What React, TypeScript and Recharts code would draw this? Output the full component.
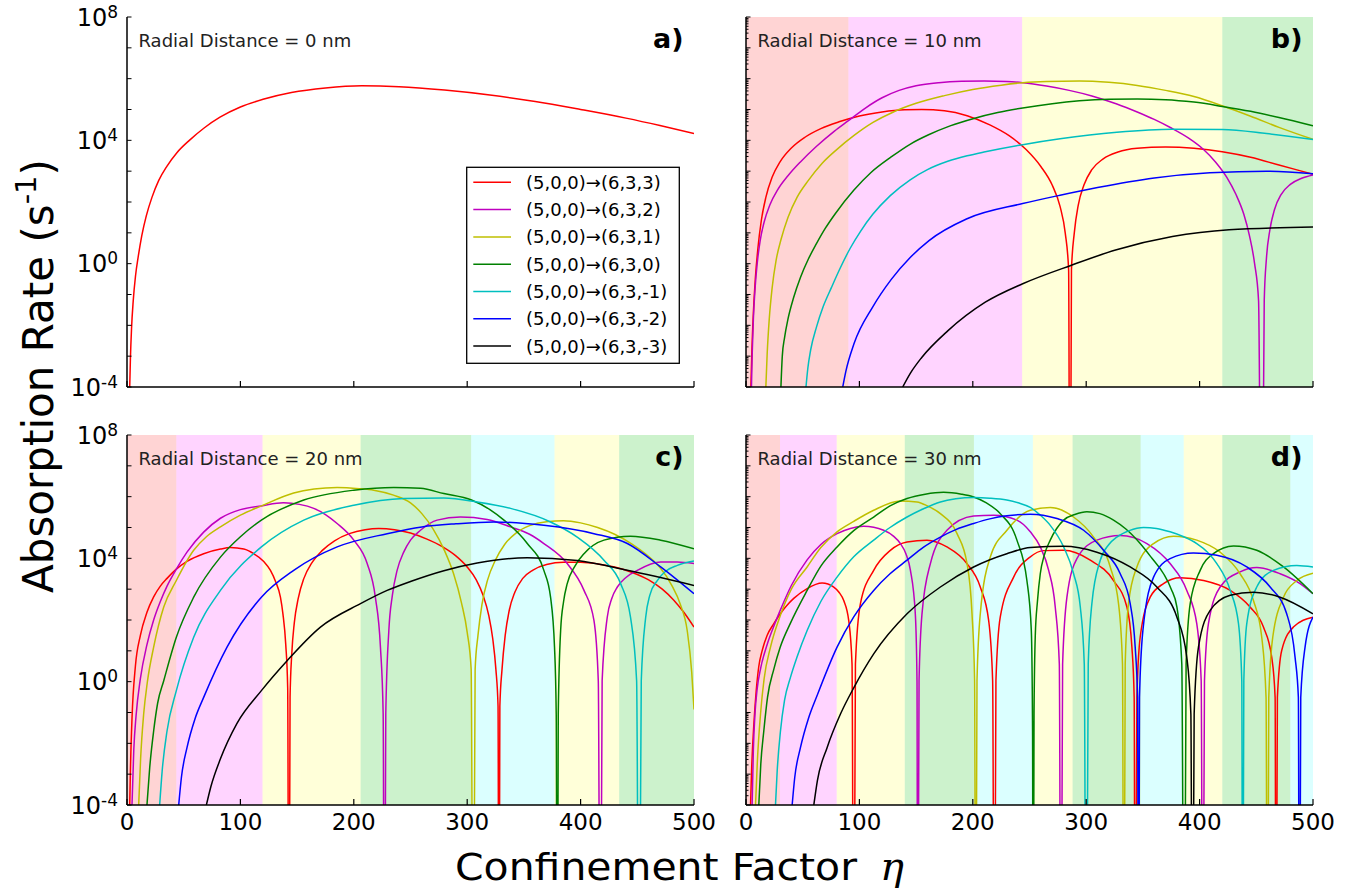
import React from 'react';
import { LineChart, Line, XAxis, YAxis, ReferenceArea } from 'recharts';

type P = [number, number]; // [confinement factor eta, log10(absorption rate / s^-1)]

// ---------- legend / series ----------
const SERIES_NAMES = [
  '(5,0,0)→(6,3,3)',
  '(5,0,0)→(6,3,2)',
  '(5,0,0)→(6,3,1)',
  '(5,0,0)→(6,3,0)',
  '(5,0,0)→(6,3,-1)',
  '(5,0,0)→(6,3,-2)',
  '(5,0,0)→(6,3,-3)',
];
const SERIES_COLORS = ['#ff0000', '#bf00bf', '#bfbf00', '#008000', '#00bfbf', '#0000ff', '#000000'];

const X_TICKS = [0, 100, 200, 300, 400, 500];
const Y_DECADES = [1e-4, 1e-3, 1e-2, 1e-1, 1, 1e1, 1e2, 1e3, 1e4, 1e5, 1e6, 1e7, 1e8];
const Y_LABEL_EXPONENTS = [-4, 0, 4, 8];
const RADIAL_DISTANCES = [0, 10, 20, 30];
const PANEL_TAGS = ['a)', 'b)', 'c)', 'd)'];

// ---------- panel a: radial distance 0 nm ----------
const aRed: P[] = [[2.4,-4],[3,-3.1],[4,-2.1],[5.5,-1.2],[7.5,-0.4],[10,0.25],[13,0.9],[17,1.55],[22,2.15],[28,2.7],[35,3.15],[44,3.6],[55,4.0],[68,4.4],[82,4.75],[100,5.08],[120,5.33],[145,5.55],[175,5.7],[207,5.77],[240,5.74],[280,5.63],[320,5.47],[360,5.26],[400,5.0],[440,4.72],[470,4.48],[500,4.22]];

// ---------- panel b: 10 nm ----------
const bRed: P[] = [[4.3,-4],[5.2,-2.8],[6.5,-1.6],[8.2,-0.5],[10.5,0.5],[13.5,1.4],[17.5,2.15],[23,2.8],[30,3.3],[40,3.75],[52,4.1],[66,4.38],[82,4.6],[100,4.79],[120,4.92],[140,4.99],[155,5.0],[175,4.96],[195,4.8],[215,4.5],[232,4.15],[247,3.7],[260,3.15],[270,2.55],[277,1.85],[281.5,1.0],[284.5,-0.2],[285.7,-12],[287,-0.2],[289.5,1.0],[293,1.9],[298,2.55],[305,3.05],[315,3.4],[328,3.62],[345,3.74],[370,3.78],[395,3.74],[420,3.63],[445,3.45],[470,3.2],[500,2.9]];
const bMag: P[] = [[4.8,-4],[5.5,-2.9],[6.5,-1.8],[8,-0.8],[10,0.05],[12.5,0.75],[16,1.35],[21,1.9],[28,2.4],[37,2.85],[48,3.3],[62,3.8],[78,4.3],[90,4.63],[105,5.04],[120,5.38],[135,5.62],[150,5.77],[170,5.87],[190,5.915],[210,5.925],[230,5.91],[244,5.87],[265,5.76],[285,5.62],[305,5.44],[327,5.18],[345,4.92],[360,4.68],[375,4.4],[390,4.08],[403,3.72],[414,3.3],[424,2.8],[432,2.25],[439,1.6],[444,0.9],[448.5,0.0],[452,-1.2],[454.7,-12],[457,-1.2],[459,0.2],[462,1.1],[466,1.75],[472,2.25],[480,2.57],[490,2.77],[500,2.88]];
const bYel: P[] = [[17.5,-4],[18.7,-2.9],[20.5,-1.8],[23,-0.8],[26.5,0.1],[31,0.8],[37,1.5],[45,2.15],[55,2.7],[67,3.25],[80,3.7],[95,4.15],[112,4.58],[130,4.92],[150,5.2],[175,5.45],[200,5.65],[225,5.79],[244,5.87],[265,5.91],[294,5.925],[320,5.88],[345,5.78],[370,5.62],[395,5.42],[420,5.12],[445,4.78],[470,4.42],[500,4.03]];
const bGrn: P[] = [[30.8,-4],[32,-3.0],[34,-2.4],[37,-1.8],[42,-1.1],[48,-0.45],[55,0.15],[62,0.64],[70,1.15],[78.7,1.62],[95,2.38],[110,2.95],[128,3.46],[145,3.88],[161,4.18],[180,4.47],[201,4.71],[222,4.9],[244,5.05],[270,5.19],[294,5.28],[320,5.33],[345,5.34],[370,5.32],[395,5.24],[420,5.1],[445,4.94],[470,4.74],[500,4.47]];
const bCyn: P[] = [[52.9,-4],[54.5,-3.4],[57,-2.8],[62.2,-2.05],[68,-1.4],[75.4,-0.77],[83,-0.15],[91.9,0.5],[101,1.05],[111.8,1.6],[127,2.2],[144.8,2.72],[160,3.05],[177.9,3.32],[195,3.5],[211,3.63],[244,3.86],[277,4.05],[327,4.26],[376,4.36],[420,4.35],[459,4.22],[500,4.03]];
const bBlu: P[] = [[85.3,-4],[88,-3.5],[95.2,-2.6],[111.8,-1.4],[128.3,-0.5],[144.8,0.2],[161.4,0.75],[194.4,1.45],[244,1.95],[277,2.22],[310,2.47],[360,2.78],[409,2.95],[459,3.0],[500,2.92]];
const bBlk: P[] = [[138.2,-4],[145,-3.55],[154.8,-3.05],[177.9,-2.18],[211,-1.25],[244,-0.65],[287,-0.05],[326.7,0.45],[376,0.88],[426,1.1],[500,1.19]];

// ---------- panel c: 20 nm ----------
const cRed: P[] = [[2.4,-4],[3,-2.9],[4.4,-1.2],[7.4,0.5],[11.8,1.5],[17.6,2.25],[23.5,2.75],[29.4,3.1],[35.3,3.35],[43.5,3.65],[52.9,3.9],[67.6,4.15],[82.4,4.3],[91.2,4.35],[103,4.3],[111.8,4.15],[120.6,3.9],[126.5,3.61],[131,3.25],[135.3,2.74],[137.5,2.2],[140,1.2],[141.7,-0.2],[142.8,-12],[143.8,-0.5],[145.3,0.9],[147.5,1.9],[151,2.7],[156,3.35],[163,3.85],[172,4.25],[183,4.57],[196,4.8],[210,4.93],[222,4.97],[236,4.93],[250,4.82],[264,4.63],[278,4.38],[290,4.08],[300,3.72],[308,3.3],[314,2.8],[319,2.15],[322.5,1.4],[325.3,0.4],[327.2,-0.8],[328,-12],[328.8,-0.8],[330.7,0.4],[333.5,1.5],[337,2.3],[342,2.9],[349,3.35],[358,3.62],[370,3.8],[385,3.87],[400,3.87],[415,3.82],[430,3.72],[445,3.55],[460,3.3],[472,3.0],[482,2.65],[491,2.25],[500,1.77]];
const cMag: P[] = [[4.4,-4],[6,-2.2],[8,-1.1],[11.8,0.1],[17.6,1.2],[23.5,2.0],[29.4,2.6],[35.3,3.1],[43.5,3.65],[52.9,4.2],[67.6,4.85],[82.4,5.3],[100,5.58],[118.5,5.7],[138,5.8],[152,5.75],[164.7,5.62],[175,5.42],[185.3,5.13],[200,4.59],[211.8,3.83],[219,2.74],[223.5,1.12],[225.9,-1.05],[227,-12],[228.2,-1.05],[230.9,1.66],[234,2.8],[238.2,3.61],[244,4.2],[250,4.59],[258.8,4.91],[273.5,5.24],[294,5.34],[317.6,5.26],[338.2,5.02],[355,4.78],[367.6,4.48],[388.2,3.83],[403,2.96],[411.8,1.98],[415.6,0.03],[417.4,-12],[419,0.03],[423.5,2.09],[427.5,2.7],[432.4,3.07],[440,3.38],[450,3.61],[470.6,3.88],[485.3,3.88],[500,3.83]];
const cYel: P[] = [[10.3,-4],[12,-2.5],[14.7,-1.05],[18,0],[23.5,1.12],[32.4,2.42],[43.5,3.28],[58.8,4.26],[70,4.7],[82.4,5.02],[100,5.4],[118.5,5.7],[147,6.12],[165,6.25],[185.3,6.3],[205,6.26],[217.6,6.21],[235,6.05],[250,5.8],[260,5.45],[270,4.95],[280,4.25],[288,3.5],[295,2.55],[300,1.6],[303.5,0.4],[305.3,-12],[307,0.4],[309.5,1.5],[313,2.5],[318,3.3],[325,3.95],[333,4.45],[343,4.82],[355,5.06],[370,5.19],[385,5.22],[400,5.15],[415,5.0],[430,4.78],[445,4.47],[458,4.12],[470,3.7],[480,3.15],[488,2.5],[494,1.66],[498,0.3],[500,-0.9]];
const cGrn: P[] = [[17.6,-4],[20,-2.8],[23.5,-1.6],[27,-0.7],[32.4,0.03],[43.5,1.44],[58.8,2.74],[82.4,4.04],[100,4.7],[118.5,5.24],[155.9,5.89],[200,6.21],[235.3,6.3],[258.8,6.27],[279.4,6.1],[303.8,5.89],[320,5.58],[332.4,5.24],[353,4.48],[367.6,3.61],[373.5,2.74],[377,1.12],[378.5,-1.05],[379.4,-12],[380.3,-1.05],[382.4,1.66],[385,2.6],[388.2,3.18],[395,3.75],[403,4.15],[420.6,4.59],[444,4.72],[470.6,4.59],[500,4.31]];
const cCyn: P[] = [[28.8,-4],[31,-2.9],[35.3,-1.6],[43.5,-0.29],[58.8,1.44],[82.4,2.96],[118.5,4.37],[155.9,5.24],[200,5.72],[244,5.94],[279.4,5.96],[308.8,5.83],[338.2,5.62],[373.5,5.18],[397,4.69],[420.6,3.94],[435.3,3.18],[444,2.09],[449.4,0.03],[451.5,-12],[453.5,0.03],[457.4,2.09],[461,2.8],[467.6,3.28],[475,3.58],[485.3,3.77],[500,3.91]];
const cBlu: P[] = [[45.6,-4],[48,-3.1],[52.9,-2.14],[60,-1.2],[67.6,-0.51],[88.2,1.12],[118.5,2.74],[147,3.61],[185.3,4.37],[229.4,4.8],[260,5.02],[290,5.12],[323.5,5.18],[367.6,5.07],[411.8,4.8],[441.2,4.48],[470.6,3.72],[500,2.85]];
const cBlk: P[] = [[70,-4],[74,-3.4],[82.4,-2.5],[97,-1.35],[118.5,-0.29],[141.2,0.68],[170.6,1.77],[205.9,2.53],[229.4,2.96],[250,3.25],[279.4,3.6],[308.8,3.85],[353,4.02],[397,3.93],[441.2,3.61],[500,3.12]];

// ---------- panel d: 30 nm ----------
const dRed: P[] = [[4,-4],[5,-2.8],[6.9,-1.4],[9,-0.3],[11.3,0.5],[14.2,1.0],[18.6,1.5],[24,1.85],[29.8,2.18],[36,2.47],[42.1,2.7],[53.9,3.02],[67.1,3.2],[77.4,3.07],[82,2.9],[86.2,2.63],[90.6,1.98],[93.5,0.57],[95,-12],[96.5,0.57],[100.9,2.53],[112.6,3.61],[127.3,4.26],[142,4.53],[159.6,4.59],[177.2,4.37],[194.8,3.83],[206.6,3.07],[214,1.98],[217.5,0.03],[219,-12],[220.4,0.03],[224.2,2.09],[236,3.39],[250.7,4.05],[262.4,4.25],[280,4.26],[303.6,3.94],[324.1,3.28],[335.9,2.42],[340.3,1.12],[342.3,-0.51],[343.2,-12],[344.7,-0.51],[347.6,1.44],[356.4,2.74],[368.2,3.18],[382.9,3.37],[403.4,3.28],[427,2.96],[444.5,2.42],[456.3,1.77],[463.6,0.79],[466.6,-0.51],[467.4,-12],[468.6,-0.51],[472.4,1.01],[482.7,1.77],[500,2.09]];
const dMag: P[] = [[5.4,-4],[6.5,-2.2],[8,-1.0],[9.8,-0.25],[13,0.45],[18.6,1.2],[24,1.75],[29.8,2.28],[40,3.12],[53.9,3.95],[66,4.45],[80.3,4.8],[92,4.97],[103.8,5.04],[121.4,4.91],[130,4.72],[136.1,4.48],[141,4.15],[145,3.61],[149.3,2.2],[150.8,0.03],[151.4,-12],[152.6,0.03],[155.2,2.2],[162.6,3.83],[177.2,4.91],[200.7,5.37],[218.4,5.4],[238.9,5.24],[250.7,4.86],[259.5,4.37],[266.9,3.61],[272.7,2.42],[276.3,0.57],[277.7,-12],[279.2,0.57],[283,2.74],[291.8,3.99],[309.4,4.59],[330,4.74],[353.5,4.48],[374,3.83],[388.7,2.96],[397.5,1.88],[401.4,0.03],[402.8,-12],[404.3,0.03],[407.8,1.88],[418.1,3.07],[435.7,3.56],[450.4,3.7],[471,3.5],[488.6,3.18],[500,2.85]];
const dYel: P[] = [[8.4,-4],[10,-2.6],[12.8,-1.05],[16,0.1],[21.6,1.12],[29.8,2.1],[40,3.0],[53.9,3.72],[66,4.35],[80.3,4.86],[95,5.2],[112.6,5.56],[136.1,5.86],[150.8,5.83],[160,5.7],[171.4,5.45],[186.1,4.8],[194.9,3.83],[199.3,2.2],[201.6,0.03],[202.5,-12],[203.7,0.03],[206.6,2.2],[215.4,4.04],[230.1,4.91],[250.7,5.56],[268.3,5.65],[288.8,5.34],[306.5,4.69],[321.2,3.72],[328.5,2.53],[332,0.57],[333.2,-12],[334.4,0.57],[337.3,2.53],[344.7,3.72],[359.4,4.48],[377,4.72],[397.5,4.59],[418.1,4.2],[435.7,3.5],[447.5,2.63],[454.8,1.44],[458.6,-0.51],[459.8,-12],[461,-0.51],[464.5,1.44],[474,2.74],[485.7,3.28],[500,3.52]];
const dGrn: P[] = [[11.3,-4],[13,-2.7],[15.7,-1.6],[19,-0.5],[24.5,0.4],[30,1.1],[39.2,1.9],[53.9,2.96],[66,3.75],[80.3,4.37],[95,4.9],[112.6,5.34],[127,5.7],[142,5.94],[158,6.08],[174.2,6.14],[190,6.08],[200.7,5.99],[212,5.8],[224.2,5.45],[238.9,4.59],[247.7,3.28],[251.6,1.66],[252.7,-1.6],[253.2,-12],[254,-1.0],[255.1,1.5],[257,2.6],[259.5,3.5],[263,4.1],[268.3,4.59],[280.1,5.24],[290,5.42],[300.6,5.51],[312,5.45],[324.1,5.24],[335,4.95],[347.6,4.48],[358,4.0],[368.2,3.5],[375,3.0],[380,2.42],[384.3,0.57],[386.4,-12],[388.1,0.57],[391.7,2.53],[400.5,3.61],[412.2,4.15],[429.9,4.4],[450.4,4.26],[474,3.72],[500,2.85]];
const dCyn: P[] = [[26,-4],[27.5,-2.9],[30.4,-1.6],[34,-0.6],[39.2,0.14],[45,0.8],[53.9,1.66],[66,2.6],[80.3,3.39],[95,4.05],[112.6,4.59],[127,5.0],[142,5.34],[156,5.6],[171.4,5.83],[185,5.93],[200.7,5.97],[215,5.95],[230,5.89],[240,5.8],[250.7,5.65],[259.5,5.4],[268.3,5.07],[280.1,4.37],[288.9,3.5],[294.8,2.42],[298.3,0.57],[300,-12],[301.8,0.57],[305,2.53],[312.4,3.94],[320,4.45],[327,4.69],[338,4.9],[350.6,5.0],[362,4.97],[374,4.86],[386,4.7],[397.5,4.48],[407,4.2],[415.2,3.83],[427,2.96],[434.3,1.88],[437.2,0.03],[438,-12],[439,0.03],[441.6,1.88],[450.4,3.07],[465.1,3.61],[485.7,3.77],[500,3.72]];
const dBlu: P[] = [[40.7,-4],[43,-3.1],[48,-2.14],[55,-1.2],[62.7,-0.45],[80.3,1.12],[95,2.1],[112.6,2.96],[127,3.5],[142,3.94],[156,4.35],[171.4,4.69],[185,4.93],[200.7,5.13],[215,5.28],[230,5.38],[250.7,5.43],[274.2,5.29],[297.7,4.91],[315.3,4.26],[330,3.5],[338.8,2.53],[343.2,1.12],[345.3,-0.51],[346.2,-12],[347,-0.51],[350,1.66],[359.4,3.39],[374,3.99],[394.6,4.17],[415.2,4.1],[441.6,3.72],[462.2,3.07],[476.8,2.2],[484.2,0.79],[487.1,-0.51],[488,-12],[489.2,-0.51],[493,1.12],[500,2.09]];
const dBlk: P[] = [[59.8,-4],[63,-3.2],[71.5,-2.14],[83.3,-1.05],[95,-0.2],[112.6,0.9],[142,2.2],[171.4,3.07],[200.7,3.72],[230,4.15],[250.7,4.35],[280.1,4.39],[309.4,4.2],[338.8,3.72],[362.3,3.07],[380,2.09],[388.7,0.79],[392.3,-1.05],[393.7,-12],[395.2,-1.05],[399,1.12],[409.3,2.31],[427,2.8],[447.5,2.9],[471,2.74],[500,2.2]];

// ---------- dominant-transition shading: [eta from, eta to, colour key] ----------
type Band = [number, number, string];
const bandsA: Band[] = [];
const bandsB: Band[] = [[0,90.3,'r'],[90.3,243.5,'m'],[243.5,420,'y'],[420,500,'g']];
const bandsC: Band[] = [[0,43.5,'r'],[43.5,119.5,'m'],[119.5,206,'y'],[206,303.5,'g'],[303.5,377,'c'],[377,434,'y'],[434,500,'g']];
const bandsD: Band[] = [[0,30,'r'],[30,80,'m'],[80,140,'y'],[140,201,'g'],[201,253,'c'],[253,288,'y'],[288,348,'g'],[348,386,'c'],[386,420,'y'],[420,480,'g'],[480,500,'c']];

const BAND_FILL: Record<string, [string, number]> = {
  r: ['#ff0000', 0.17],
  m: ['#ff00ff', 0.17],
  y: ['#ffff00', 0.15],
  g: ['#00c000', 0.2],
  c: ['#00ffff', 0.14],
};

// ---------- layout ----------
const FONT = 'DejaVu Sans, Verdana, sans-serif';
const PLOT_W = 567;
const PLOT_H = 370;
const ML = 60;
const MT = 22;
const MR = 26;
const AXB = 40;

const toData = (pts: P[]) => pts.map(([x, l]) => ({ x, y: Math.pow(10, l) }));

const minorTicks = (): number[] => {
  const out: number[] = [];
  for (let e = -4; e < 8; e++) for (let m = 1; m <= 9; m++) out.push(m * Math.pow(10, e));
  out.push(1e8);
  return out;
};

const xTick = (dir: number, label: boolean) => (p: any) => (
  <g>
    <line x1={p.x} y1={p.y} x2={p.x} y2={p.y + dir * 6} stroke="#000" strokeWidth={1.2} />
    {label ? (
      <text x={p.x} y={p.y + 25} textAnchor="middle" fontSize={23} fontFamily={FONT} fill="#000">
        {p.payload.value}
      </text>
    ) : null}
  </g>
);

const yTick = (dir: number, label: boolean) => (p: any) => {
  const v = p.payload.value as number;
  const lg = Math.log10(v);
  const e = Math.round(lg);
  const major = Math.abs(lg - e) < 1e-6;
  const len = major ? 4.5 : 2.5;
  const show = label && major && Y_LABEL_EXPONENTS.includes(e);
  return (
    <g>
      <line x1={p.x} y1={p.y} x2={p.x + dir * len} y2={p.y} stroke="#000" strokeWidth={1} />
      {show ? (
        <text x={p.x - 9} y={p.y + 8.5} textAnchor="end" fontSize={24} fontFamily={FONT} fill="#000">
          10
          <tspan dy={-8} fontSize={17}>{e < 0 ? '-' + Math.abs(e) : String(e)}</tspan>
        </text>
      ) : null}
    </g>
  );
};

type PanelProps = {
  left: number;
  top: number;
  lines: P[][];
  bands: Band[];
  showX: boolean;
  showY: boolean;
  minor: boolean;
};

function Panel({ left, top, lines, bands, showX, showY, minor }: PanelProps) {
  const yTicks = minor ? minorTicks() : Y_DECADES;
  const axisLine = { stroke: '#000', strokeWidth: 1.5 };
  return (
    <div style={{ position: 'absolute', left: left - ML, top: top - MT }}>
      <LineChart width={PLOT_W + ML + MR} height={PLOT_H + MT + AXB} margin={{ top: MT, right: MR, left: 0, bottom: 0 }}>
        <XAxis xAxisId="b" dataKey="x" type="number" domain={[0, 500]} allowDataOverflow ticks={X_TICKS} interval={0}
          tickSize={0} tickMargin={0} height={AXB} axisLine={axisLine} tickLine={false} tick={xTick(-1, showX)} />
        <XAxis xAxisId="t" orientation="top" dataKey="x" type="number" domain={[0, 500]} allowDataOverflow ticks={X_TICKS} interval={0}
          tickSize={0} tickMargin={0} height={0} axisLine={axisLine} tickLine={false} tick={xTick(1, false)} />
        <YAxis yAxisId="l" scale="log" type="number" domain={[1e-4, 1e8]} allowDataOverflow ticks={yTicks} interval={0}
          width={ML} tickSize={0} tickMargin={0} axisLine={axisLine} tickLine={false} tick={yTick(1, showY)} />
        <YAxis yAxisId="r" orientation="right" scale="log" type="number" domain={[1e-4, 1e8]} allowDataOverflow ticks={yTicks} interval={0}
          width={0} tickSize={0} tickMargin={0} axisLine={axisLine} tickLine={false} tick={yTick(-1, false)} />
        {bands.map(([x1, x2, k], i) => (
          <ReferenceArea key={'b' + i} xAxisId="b" yAxisId="l" x1={x1} x2={x2}
            fill={BAND_FILL[k][0]} fillOpacity={BAND_FILL[k][1]} stroke="none" />
        ))}
        {lines.map((pts, i) => (
          <Line key={'l' + i} xAxisId="b" yAxisId="l" data={toData(pts)} dataKey="y" type="monotone"
            stroke={SERIES_COLORS[i]} strokeWidth={1.5} dot={false} activeDot={false} isAnimationActive={false} />
        ))}
      </LineChart>
    </div>
  );
}

const PANEL_DATA: { lines: P[][]; bands: Band[] }[] = [
  { lines: [aRed], bands: bandsA },
  { lines: [bRed, bMag, bYel, bGrn, bCyn, bBlu, bBlk], bands: bandsB },
  { lines: [cRed, cMag, cYel, cGrn, cCyn, cBlu, cBlk], bands: bandsC },
  { lines: [dRed, dMag, dYel, dGrn, dCyn, dBlu, dBlk], bands: bandsD },
];

const COL_X = [126.5, 745.5];
const ROW_Y = [17, 435];

export default function App() {
  return (
    <div style={{ position: 'absolute', left: 0, top: 0, width: 1362, height: 896, background: '#fff', overflow: 'hidden' }}>
      {PANEL_DATA.map((pd, i) => (
        <Panel key={i} left={COL_X[i % 2]} top={ROW_Y[Math.floor(i / 2)]} lines={pd.lines} bands={pd.bands}
          showX={i >= 2} showY={i % 2 === 0} minor={i % 2 === 1} />
      ))}
      <svg width={1362} height={896} style={{ position: 'absolute', left: 0, top: 0, pointerEvents: 'none' }}>
        {PANEL_TAGS.map((t, i) => {
          const px = COL_X[i % 2];
          const py = ROW_Y[Math.floor(i / 2)];
          return (
            <g key={t}>
              <text x={px + PLOT_W - 10} y={py + 31} textAnchor="end" fontSize={27} fontWeight="bold" fontFamily={FONT} fill="#000">{t}</text>
              <text x={px + 12} y={py + 30} fontSize={18} fontFamily={FONT} fill="#222">{`Radial Distance = ${RADIAL_DISTANCES[i]} nm`}</text>
            </g>
          );
        })}
        {/* legend (panel a) */}
        <g>
          <rect x={466.7} y={167.3} width={212.6} height={196} fill="#fff" stroke="#000" strokeWidth={1.3} />
          {SERIES_NAMES.map((n, i) => {
            const cy = 182.3 + 27.3 * i;
            return (
              <g key={n}>
                <line x1={473.3} y1={cy} x2={511} y2={cy} stroke={SERIES_COLORS[i]} strokeWidth={1.5} />
                <text x={526} y={cy + 6.5} fontSize={18} fontFamily={FONT} fill="#000">{n}</text>
              </g>
            );
          })}
        </g>
        {/* axis titles */}
        <text transform="translate(53,376) rotate(-90)" textAnchor="middle" fontSize={42} fontFamily={FONT} fill="#000">
          Absorption Rate (s<tspan fontSize={29} dy={-17}>-1</tspan><tspan dy={17}>)</tspan>
        </text>
        <text x={455} y={880} fontSize={38} fontFamily={FONT} fill="#000" textLength={402} lengthAdjust="spacingAndGlyphs">Confinement Factor</text>
        <text x={880} y={880} fontSize={40} fontFamily="DejaVu Serif, serif" fontStyle="italic" fill="#000">η</text>
      </svg>
    </div>
  );
}
